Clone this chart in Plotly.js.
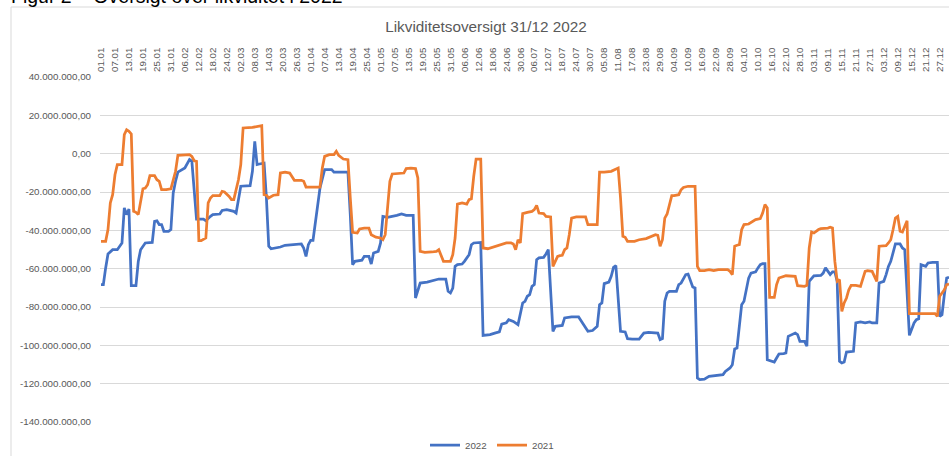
<!DOCTYPE html>
<html>
<head>
<meta charset="utf-8">
<script src="https://cdn.plot.ly/plotly-3.0.1.min.js"></script>
<style>
  html, body { margin: 0; padding: 0; background: #ffffff; }
  #chart { width: 949px; height: 456px; }
</style>
</head>
<body>
<div id="chart"></div>
<script>
// ---------- DATA ----------
// Calendar categories (one per day, DD.MM)
const monthLengths = [31, 28, 31, 30, 31, 30, 31, 31, 30, 31, 30, 31];
const categories = [];
monthLengths.forEach(function (len, m) {
  for (let d = 1; d <= len; d++) {
    categories.push(String(d).padStart(2, '0') + '.' + String(m + 1).padStart(2, '0'));
  }
});

// Tick labels shown on the x axis (every 6th day)
const xTickLabels = ["01.01","07.01","13.01","19.01","25.01","31.01","06.02","12.02","18.02","24.02",
  "02.03","08.03","14.03","20.03","26.03","01.04","07.04","13.04","19.04","25.04",
  "01.05","07.05","13.05","19.05","25.05","31.05","06.06","12.06","18.06","24.06",
  "30.06","06.07","12.07","18.07","24.07","30.07","05.08","11.08","17.08","23.08",
  "29.08","04.09","10.09","16.09","22.09","28.09","04.10","10.10","16.10","22.10",
  "28.10","03.11","09.11","15.11","21.11","27.11","03.12","09.12","15.12","21.12","27.12"];

// Y ticks
const yTickValues = [40e6, 20e6, 0, -20e6, -40e6, -60e6, -80e6, -100e6, -120e6, -140e6];
const yTickLabels = ["40.000.000,00","20.000.000,00","0,00","-20.000.000,00","-40.000.000,00",
  "-60.000.000,00","-80.000.000,00","-100.000.000,00","-120.000.000,00","-140.000.000,00"];

// Series 2022 (values in millions)
const dates2022 = [
  "01.01","02.01","03.01","04.01","06.01","08.01","10.01","11.01","12.01","13.01","14.01","16.01","17.01","18.01","20.01","23.01","24.01","25.01","26.01","27.01","28.01","30.01","31.01",
  "01.02","02.02","03.02","06.02","07.02","08.02","09.02","10.02","11.02","14.02","15.02","17.02","18.02","21.02","22.02","24.02","25.02","27.02","28.02",
  "01.03","02.03","06.03","07.03","08.03","09.03","10.03","12.03","13.03","14.03","15.03","19.03","21.03","25.03","28.03","29.03","30.03","31.03",
  "01.04","02.04","03.04","04.04","05.04","07.04","10.04","11.04","17.04","18.04","19.04","20.04","23.04","24.04","26.04","27.04","28.04","30.04",
  "01.05","02.05","04.05","08.05","10.05","12.05","15.05","16.05","17.05","18.05","21.05","24.05","26.05","29.05","30.05","31.05",
  "01.06","02.06","03.06","05.06","06.06","08.06","09.06","10.06","13.06","14.06","17.06","19.06","21.06","22.06","24.06","25.06","27.06","29.06","30.06",
  "01.07","02.07","03.07","04.07","05.07","06.07","07.07","08.07","10.07","11.07","12.07","14.07","15.07","18.07","19.07","22.07","25.07","26.07","28.07","29.07","31.07",
  "02.08","03.08","04.08","05.08","07.08","08.08","09.08","10.08","11.08","12.08","14.08","15.08","17.08","20.08","22.08","24.08","28.08","29.08","30.08","31.08",
  "01.09","02.09","05.09","06.09","07.09","08.09","09.09","10.09","11.09","12.09","13.09","14.09","15.09","17.09","19.09","22.09","25.09","26.09","28.09","29.09","30.09",
  "01.10","02.10","03.10","04.10","05.10","06.10","07.10","09.10","10.10","11.10","12.10","13.10","14.10","15.10","17.10","18.10","19.10","21.10","22.10","23.10","25.10","26.10","27.10","28.10","30.10","31.10",
  "01.11","03.11","06.11","07.11","08.11","09.11","10.11","11.11","12.11","13.11","14.11","15.11","16.11","17.11","19.11","20.11","21.11","23.11","25.11","27.11","28.11","30.11",
  "01.12","03.12","04.12","05.12","06.12","07.12","08.12","10.12","11.12","12.12","13.12","14.12","16.12","17.12","18.12","19.12","21.12","22.12","24.12","25.12","26.12","27.12","28.12","29.12","30.12","31.12"
];
const values2022 = [
  -68.3,-68.3,-59.6,-52.3,-50.1,-50.1,-46.6,-28.3,-31.8,-28.9,-68.9,-68.9,-56.2,-50.1,-46.6,-46.3,-35.3,-35.0,-37.0,-37.0,-40.5,-40.5,-39.6,
  -20.5,-14.4,-9.6,-7.5,-4.9,-3.1,-4.0,-17.0,-34.1,-34.1,-35.0,-32.7,-31.8,-31.5,-29.6,-29.2,-29.6,-30.1,-31.0,
  -24.0,-17.0,-16.7,-9.2,6.4,-5.7,-5.4,-4.9,-23.1,-48.3,-49.6,-48.7,-47.8,-47.5,-47.1,-49.2,-53.6,-47.5,
  -45.2,-45.2,-35.3,-28.3,-17.9,-8.3,-8.3,-9.6,-9.6,-31.8,-57.9,-56.2,-55.6,-53.6,-53.6,-57.6,-51.8,-51.0,
  -46.6,-32.7,-33.2,-32.2,-31.5,-32.2,-32.2,-75.3,-71.8,-67.5,-67.0,-66.1,-65.4,-65.4,-71.8,-72.7,
  -70.1,-58.8,-57.9,-57.6,-56.2,-52.7,-47.5,-46.6,-46.3,-94.8,-94.4,-93.6,-93.0,-88.9,-88.3,-86.6,-87.5,-89.2,-83.1,
  -77.9,-77.0,-74.4,-73.6,-69.2,-68.3,-55.3,-54.4,-54.1,-52.3,-50.1,-92.7,-90.1,-89.6,-85.7,-85.2,-85.2,-87.1,-91.0,-92.7,-92.3,
  -90.1,-78.8,-77.9,-67.8,-67.0,-64.0,-59.3,-58.4,-75.3,-92.7,-93.0,-96.5,-96.7,-96.7,-93.6,-93.2,-93.6,-97.0,-96.5,-77.0,
  -72.7,-71.8,-71.8,-68.3,-67.5,-64.9,-63.1,-62.8,-65.7,-69.6,-70.1,-117.0,-117.9,-117.6,-116.2,-115.7,-115.3,-113.6,-111.8,-110.1,-101.9,
  -101.4,-91.0,-78.8,-77.0,-70.1,-64.9,-62.3,-61.7,-59.6,-57.9,-57.4,-57.4,-107.5,-107.8,-108.7,-106.6,-104.5,-104.3,-104.0,-95.3,-94.4,-93.6,-94.4,-97.9,-97.9,-100.5,
  -66.6,-63.7,-63.5,-62.3,-59.6,-61.7,-63.1,-61.7,-61.7,-66.6,-108.3,-109.2,-108.7,-103.5,-103.1,-103.1,-88.3,-87.8,-88.3,-87.8,-88.3,-88.3,
  -67.5,-66.6,-63.1,-58.8,-56.2,-51.0,-47.1,-47.1,-49.2,-50.1,-71.8,-94.8,-88.3,-86.6,-86.1,-57.9,-58.8,-57.0,-56.7,-56.7,-56.7,-84.9,-84.0,-73.6,-64.9,-64.5
];

// Series 2021 (values in millions)
const dates2021 = [
  "01.01","03.01","04.01","05.01","06.01","07.01","08.01","10.01","11.01","12.01","13.01","14.01","15.01","16.01","17.01","19.01","20.01","21.01","22.01","24.01","25.01","26.01","27.01","29.01","31.01",
  "01.02","02.02","03.02","06.02","08.02","09.02","10.02","11.02","12.02","13.02","15.02","16.02","17.02","18.02","21.02","22.02","23.02","25.02","26.02","27.02",
  "01.03","02.03","03.03","07.03","09.03","11.03","12.03","13.03","14.03","16.03","18.03","19.03","21.03","23.03","25.03","28.03","29.03","30.03",
  "02.04","05.04","06.04","07.04","09.04","11.04","12.04","13.04","15.04","17.04","18.04","19.04","21.04","22.04","24.04","26.04","27.04","29.04",
  "01.05","02.05","03.05","04.05","05.05","06.05","09.05","11.05","12.05","14.05","16.05","17.05","18.05","20.05","23.05","25.05","26.05","28.05","31.05",
  "01.06","02.06","03.06","05.06","07.06","08.06","09.06","10.06","11.06","13.06","14.06","16.06","18.06","20.06","22.06","24.06","26.06","27.06","28.06","29.06","30.06",
  "01.07","03.07","05.07","06.07","07.07","08.07","09.07","10.07","11.07","13.07","14.07","16.07","17.07","18.07","19.07","20.07","21.07","22.07","24.07","28.07","29.07",
  "02.08","03.08","05.08","08.08","10.08","11.08","12.08","13.08","14.08","15.08","18.08","20.08","23.08","25.08","27.08","28.08","29.08","30.08","31.08",
  "01.09","03.09","04.09","06.09","07.09","08.09","10.09","13.09","14.09","15.09","17.09","19.09","21.09","23.09","27.09","28.09","29.09","30.09",
  "01.10","02.10","03.10","04.10","06.10","08.10","09.10","11.10","12.10","13.10","14.10","15.10","17.10","18.10","19.10","22.10","25.10","26.10","27.10","30.10","31.10",
  "01.11","02.11","03.11","05.11","06.11","09.11","10.11","11.11","12.11","13.11","14.11","15.11","16.11","17.11","18.11","19.11","21.11","23.11","24.11","25.11","26.11","28.11","29.11","30.11",
  "01.12","04.12","05.12","06.12","07.12","08.12","09.12","10.12","11.12","12.12","13.12","14.12","17.12","20.12","24.12","25.12","26.12","27.12","29.12","30.12","31.12"
];
const values2021 = [
  -45.7,-45.7,-39.6,-25.7,-21.4,-11.0,-5.7,-5.7,9.9,12.5,11.7,10.3,-30.1,-30.6,-31.8,-18.3,-17.9,-16.2,-11.5,-11.5,-13.6,-14.4,-18.8,-18.8,-18.3,
  -14.4,-9.2,-0.9,-0.5,-0.5,-1.4,-3.7,-4.0,-45.4,-45.4,-44.0,-25.7,-23.1,-21.9,-21.9,-19.7,-20.0,-22.3,-24.0,-24.0,
  -13.6,-5.7,13.4,13.7,14.1,14.6,-21.4,-21.7,-23.1,-21.7,-21.4,-10.1,-9.7,-10.1,-13.9,-13.9,-14.4,-17.4,
  -17.4,-17.4,-7.5,-1.4,-0.5,-0.5,1.2,-0.9,-2.8,-3.1,-23.1,-41.0,-41.4,-39.3,-38.8,-38.8,-42.3,-43.6,
  -44.0,-44.9,-42.3,-28.3,-14.4,-10.6,-10.1,-10.1,-7.8,-7.5,-7.8,-12.7,-51.0,-51.5,-51.3,-51.0,-50.1,-56.2,-56.2,
  -52.7,-44.0,-26.3,-25.7,-26.3,-24.0,-23.5,-11.8,-2.8,-2.8,-49.2,-49.6,-48.9,-48.3,-47.5,-46.6,-46.6,-47.1,-50.1,-44.9,-46.6,
  -31.3,-30.6,-30.1,-29.2,-27.0,-31.0,-31.3,-31.3,-32.7,-33.0,-58.8,-53.6,-53.2,-53.0,-50.1,-49.2,-42.3,-33.6,-33.0,-33.0,-37.0,
  -37.0,-9.6,-9.6,-9.2,-8.3,-7.5,-23.1,-43.1,-43.6,-45.7,-45.7,-44.9,-44.3,-43.1,-42.3,-42.6,-48.3,-44.9,-33.6,
  -31.5,-21.9,-21.9,-21.4,-18.8,-17.6,-17.0,-17.0,-58.8,-61.0,-61.0,-60.5,-61.0,-60.5,-60.5,-61.4,-63.1,-48.3,
  -47.8,-47.5,-39.6,-37.0,-36.7,-35.0,-34.4,-33.9,-31.0,-26.6,-28.3,-75.0,-75.0,-68.3,-64.9,-63.7,-63.7,-64.0,-68.9,-69.2,-68.7,
  -49.2,-40.9,-41.4,-39.6,-39.1,-38.8,-38.4,-38.8,-56.2,-66.6,-65.7,-82.3,-77.9,-75.3,-71.0,-68.7,-68.7,-69.2,-65.7,-61.4,-61.0,-61.4,-64.0,-66.6,
  -48.3,-48.0,-46.6,-44.9,-39.6,-33.6,-32.7,-40.5,-40.9,-37.9,-35.0,-83.5,-83.5,-83.5,-83.5,-83.5,-84.9,-74.4,-71.0,-68.3,-68.0
];
const UNIT = 1e6;

// ---------- CHART ----------
const FONT = '"Liberation Sans", Arial, sans-serif';
const GREY = '#595959';

const traces = [
  {
    name: '2022', type: 'scatter', mode: 'lines',
    x: dates2022, y: values2022.map(v => v * UNIT),
    line: { color: '#4472C4', width: 2.75 }
  },
  {
    name: '2021', type: 'scatter', mode: 'lines',
    x: dates2021, y: values2021.map(v => v * UNIT),
    line: { color: '#ED7D31', width: 2.75 }
  }
];

const layout = {
  width: 949, height: 456,
  margin: { l: 100, r: 0, t: 77, b: 34, autoexpand: false },
  paper_bgcolor: '#ffffff', plot_bgcolor: '#ffffff',
  font: { family: FONT, size: 9.75, color: GREY },
  title: {
    text: 'Likviditetsoversigt 31/12 2022',
    font: { family: FONT, size: 15.3, color: GREY },
    xref: 'container', x: 486 / 949, xanchor: 'center',
    yref: 'container', y: 1 - 27 / 456, yanchor: 'middle'
  },
  xaxis: {
    type: 'category', categoryorder: 'array', categoryarray: categories,
    range: [-0.43, 364], side: 'top',
    tickmode: 'array', tickvals: xTickLabels, ticktext: xTickLabels,
    tickangle: -90, ticks: '', ticklabelstandoff: 4,
    tickfont: { family: FONT, size: 9.75, color: GREY },
    showgrid: false, zeroline: false, showline: false, fixedrange: true
  },
  yaxis: {
    range: [-140e6, 40e6],
    tickmode: 'array', tickvals: yTickValues, ticktext: yTickLabels,
    ticks: '', ticklabelstandoff: 8,
    tickfont: { family: FONT, size: 9.75, color: GREY },
    showgrid: true, gridcolor: '#d9d9d9', gridwidth: 1,
    zeroline: false, showline: false, fixedrange: true
  },
  showlegend: true,
  legend: {
    orientation: 'h', x: (425 - 100) / 849, xanchor: 'left', y: -0.0667, yanchor: 'middle',
    entrywidth: 22, entrywidthmode: 'pixels', itemwidth: 30,
    font: { family: FONT, size: 9.75, color: GREY }, bgcolor: 'rgba(0,0,0,0)'
  },
  shapes: [{
    type: 'rect', xref: 'paper', yref: 'paper', layer: 'below',
    x0: (11 - 100) / 849, x1: 1.3, y0: -0.5, y1: 1 + (77 - 7) / 345,
    line: { color: '#d9d9d9', width: 1 }, fillcolor: 'rgba(0,0,0,0)'
  }],
  annotations: [{
    text: 'Figur 2 – Oversigt over likviditet i 2022',
    xref: 'paper', yref: 'paper', x: (9 - 100) / 849, xanchor: 'left',
    y: 1 + (77 - 9.2) / 345, yanchor: 'bottom', showarrow: false,
    font: { family: FONT, size: 19.5, color: '#000000' }
  }]
};

Plotly.newPlot('chart', traces, layout, { staticPlot: true, displayModeBar: false });
</script>
</body>
</html>
